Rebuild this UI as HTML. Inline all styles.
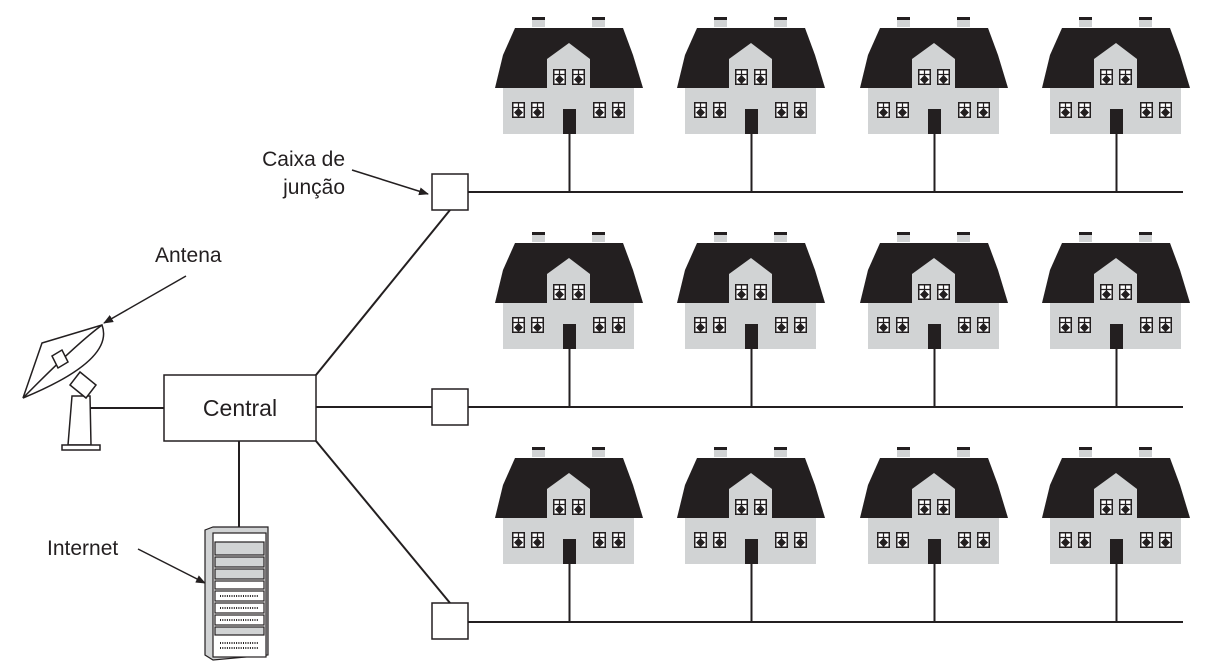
<!DOCTYPE html>
<html><head><meta charset="utf-8"><style>
html,body{margin:0;padding:0;background:#fff;}
svg{display:block;}
text{font-family:"Liberation Sans",sans-serif;font-size:21px;fill:#231f20;}
</style></head><body>
<svg width="1209" height="663" viewBox="0 0 1209 663" xmlns="http://www.w3.org/2000/svg">
<defs>
<marker id="ar" viewBox="0 0 10 10" refX="9" refY="5" markerWidth="10" markerHeight="10" orient="auto" markerUnits="userSpaceOnUse"><path d="M0,1 L10,5 L0,9 Z" fill="#231f20"/></marker>
<g id="win">
<rect x="0" y="0" width="13" height="16" fill="#231f20"/>
<rect x="1.5" y="1.5" width="10" height="13" fill="#fff"/>
<path d="M6.5,1 V15 M1,5.5 H12" stroke="#231f20" stroke-width="1.2"/>
<path d="M6.5,6 L11,10.5 L6.5,15 L2,10.5 Z" fill="#231f20"/>
</g>
<g id="house">
<rect x="532" y="17" width="13" height="10" fill="#d1d3d4"/><rect x="532" y="17" width="13" height="3" fill="#231f20"/>
<rect x="592" y="17" width="13" height="10" fill="#d1d3d4"/><rect x="592" y="17" width="13" height="3" fill="#231f20"/>
<path d="M515,28 L623,28 L633,55 L643,88 L495,88 L503,55 Z" fill="#231f20"/>
<rect x="503" y="88" width="131" height="46" fill="#d1d3d4"/>
<path d="M547,88 L547,59 L569,43 L590,59 L590,88 Z" fill="#d1d3d4"/>
<use href="#win" x="553" y="69"/><use href="#win" x="572" y="69"/>
<use href="#win" x="512" y="102"/><use href="#win" x="531" y="102"/>
<use href="#win" x="593" y="102"/><use href="#win" x="612" y="102"/>
<rect x="563" y="109" width="13" height="25" fill="#231f20"/>
<line x1="569.5" y1="134" x2="569.5" y2="192" stroke="#231f20" stroke-width="2"/>
</g>
</defs>
<g stroke="#231f20" stroke-width="2" fill="none">
<line x1="468" y1="192" x2="1183" y2="192"/>
<line x1="468" y1="407" x2="1183" y2="407"/>
<line x1="468" y1="622" x2="1183" y2="622"/>
<line x1="316" y1="375" x2="450" y2="210"/>
<line x1="316" y1="407" x2="432" y2="407"/>
<line x1="316" y1="441" x2="450" y2="603"/>
<line x1="88" y1="408" x2="164" y2="408"/>
<line x1="239" y1="441" x2="239" y2="528"/>
</g>
<g fill="#fff" stroke="#231f20" stroke-width="1.5">
<rect x="432" y="174" width="36" height="36"/>
<rect x="432" y="389" width="36" height="36"/>
<rect x="432" y="603" width="36" height="36"/>
<rect x="164" y="375" width="152" height="66"/>
</g>
<text x="240" y="416" text-anchor="middle" style="font-size:23px">Central</text>
<g>
<use href="#house"/><use href="#house" x="182"/><use href="#house" x="365"/><use href="#house" x="547"/>
<use href="#house" y="215"/><use href="#house" x="182" y="215"/><use href="#house" x="365" y="215"/><use href="#house" x="547" y="215"/>
<use href="#house" y="430"/><use href="#house" x="182" y="430"/><use href="#house" x="365" y="430"/><use href="#house" x="547" y="430"/>
</g>
<text x="345" y="166" text-anchor="end">Caixa de</text>
<text x="345" y="194" text-anchor="end">junção</text>
<line x1="352" y1="170" x2="428" y2="194" stroke="#231f20" stroke-width="1.5" marker-end="url(#ar)"/>
<text x="155" y="262">Antena</text>
<line x1="186" y1="276" x2="104" y2="323" stroke="#231f20" stroke-width="1.5" marker-end="url(#ar)"/>
<text x="47" y="555">Internet</text>
<line x1="138" y1="549" x2="205" y2="583" stroke="#231f20" stroke-width="1.5" marker-end="url(#ar)"/>
<!-- antenna -->
<g stroke="#231f20" stroke-width="1.5" fill="#fff">
<path d="M72,396 L90,396 L91,445 L68,445 Z"/>
<rect x="62" y="445" width="38" height="5"/>
<path d="M70,385 L80,372 L96,385 L86,398 Z"/>
<path d="M42,343 L102,325 L23,398 Z"/>
<path d="M102,325 Q115,360 23,398 Q75,345 102,325 Z"/>
<path d="M52,356 L62,350 L68,362 L58,368 Z"/>
</g>
<!-- server -->
<g stroke="#231f20" stroke-width="1.2">
<path d="M205,530 L213,527 L268,527 L268,655 L213,660 L205,655 Z" fill="#d1d3d4"/>
<rect x="213" y="533" width="53" height="124" fill="#fff"/>
<rect x="215" y="542" width="49" height="13" fill="#d1d3d4"/>
<rect x="215" y="557" width="49" height="10" fill="#d1d3d4"/>
<rect x="215" y="569" width="49" height="10" fill="#d1d3d4"/>
<rect x="215" y="581" width="49" height="8" fill="#fff"/>
<rect x="215" y="591" width="49" height="10" fill="#fff"/>
<rect x="215" y="603" width="49" height="10" fill="#fff"/>
<rect x="215" y="615" width="49" height="10" fill="#fff"/>
<rect x="215" y="627" width="49" height="8" fill="#d1d3d4"/>
</g>
<g stroke="#231f20" stroke-width="2" stroke-dasharray="1 1.3">
<line x1="220" y1="596" x2="258" y2="596"/>
<line x1="220" y1="608" x2="258" y2="608"/>
<line x1="220" y1="620" x2="258" y2="620"/>
<line x1="220" y1="643" x2="258" y2="643"/>
<line x1="220" y1="648" x2="258" y2="648"/>
</g>
</svg>
</body></html>
